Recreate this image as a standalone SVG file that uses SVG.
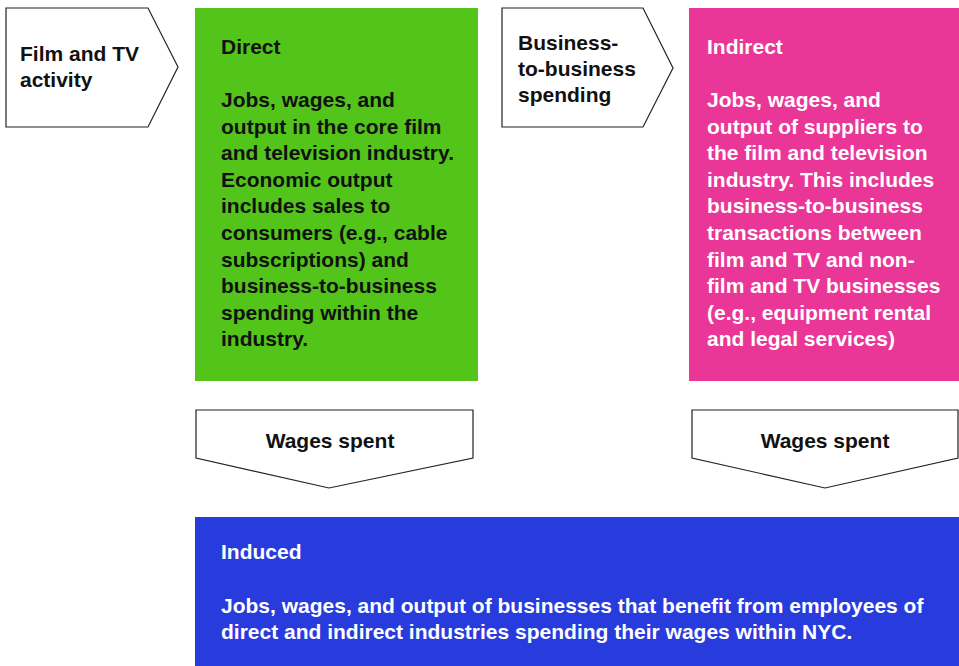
<svg xmlns="http://www.w3.org/2000/svg" width="959" height="666" viewBox="0 0 959 666">
<style>
  text { font-family: "Liberation Sans", Arial, sans-serif; font-weight: bold; font-size: 21px; }
  .dark { fill: #111111; }
  .light { fill: #ffffff; }
  .arrow { fill: #ffffff; stroke: #222222; stroke-width: 1.2; stroke-linejoin: miter; }
  .mid { text-anchor: middle; }
</style>
<rect width="959" height="666" fill="#ffffff"/>

<g id="connectors">
  <g id="film-tv-activity">
    <polygon class="arrow" points="6,8 148,8 178,67 148,127 6,127"/>
    <text class="dark" x="20" y="61">Film and TV</text>
    <text class="dark" x="20" y="87">activity</text>
  </g>
  <g id="b2b-spending">
    <polygon class="arrow" points="502,8 643,8 673,68 643,127 502,127"/>
    <text class="dark" x="518" y="49.5">Business-</text>
    <text class="dark" x="518" y="75.5">to-business</text>
    <text class="dark" x="518" y="101.5">spending</text>
  </g>
  <g id="wages-spent-direct">
    <polygon class="arrow" points="196,410 473,410 473,458 329,488 196,458"/>
    <text class="dark mid" x="330" y="448">Wages spent</text>
  </g>
  <g id="wages-spent-indirect">
    <polygon class="arrow" points="692,410 958,410 958,458 825,488 692,458"/>
    <text class="dark mid" x="825" y="448">Wages spent</text>
  </g>
</g>

<g id="direct">
  <rect x="195" y="8" width="283" height="373" fill="#53C41A"/>
  <text class="dark" x="221" y="54">Direct</text>
  <text class="dark" x="221" y="107">Jobs, wages, and</text>
  <text class="dark" x="221" y="133.6">output in the core film</text>
  <text class="dark" x="221" y="160.2">and television industry.</text>
  <text class="dark" x="221" y="186.8">Economic output</text>
  <text class="dark" x="221" y="213.4">includes sales to</text>
  <text class="dark" x="221" y="240">consumers (e.g., cable</text>
  <text class="dark" x="221" y="266.6">subscriptions) and</text>
  <text class="dark" x="221" y="293.2">business-to-business</text>
  <text class="dark" x="221" y="319.8">spending within the</text>
  <text class="dark" x="221" y="346.4">industry.</text>
</g>

<g id="indirect">
  <rect x="689" y="8" width="270" height="373" fill="#EA3697"/>
  <text class="light" x="707" y="54">Indirect</text>
  <text class="light" x="707" y="107">Jobs, wages, and</text>
  <text class="light" x="707" y="133.6">output of suppliers to</text>
  <text class="light" x="707" y="160.2">the film and television</text>
  <text class="light" x="707" y="186.8">industry. This includes</text>
  <text class="light" x="707" y="213.4">business-to-business</text>
  <text class="light" x="707" y="240">transactions between</text>
  <text class="light" x="707" y="266.6">film and TV and non-</text>
  <text class="light" x="707" y="293.2">film and TV businesses</text>
  <text class="light" x="707" y="319.8">(e.g., equipment rental</text>
  <text class="light" x="707" y="346.4">and legal services)</text>
</g>

<g id="induced">
  <rect x="195" y="517" width="764" height="149" fill="#283BDD"/>
  <text class="light" x="221" y="559">Induced</text>
  <text class="light" x="221" y="612.5">Jobs, wages, and output of businesses that benefit from employees of</text>
  <text class="light" x="221" y="638.5">direct and indirect industries spending their wages within NYC.</text>
</g>
</svg>
